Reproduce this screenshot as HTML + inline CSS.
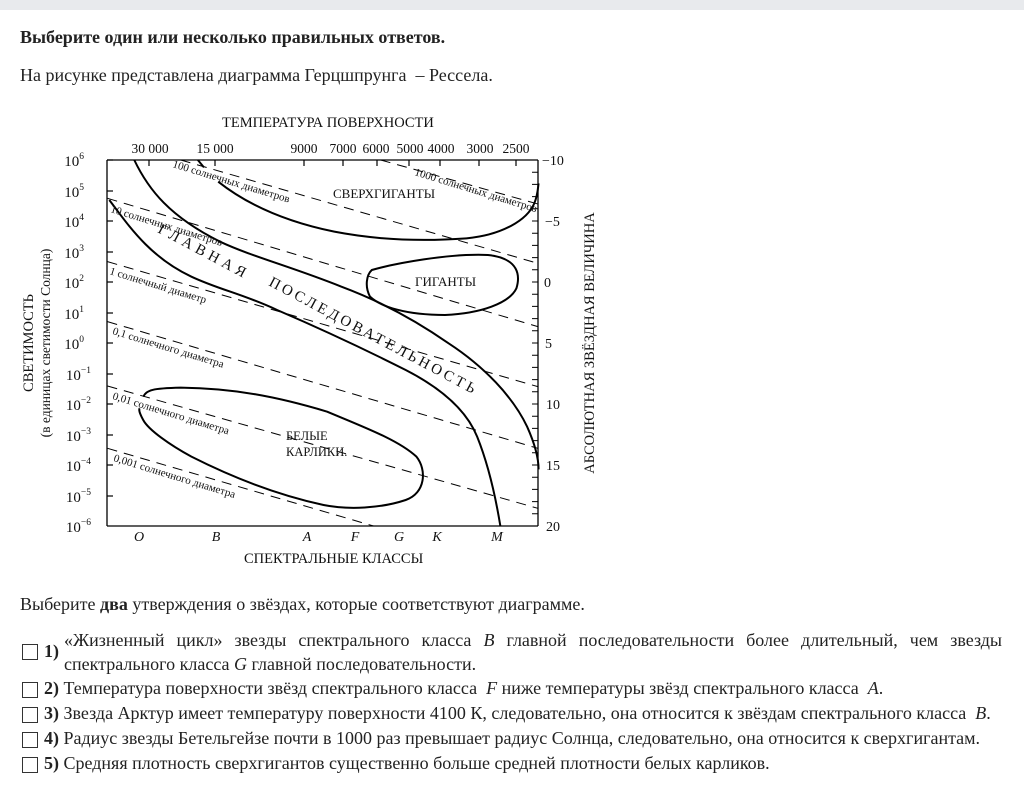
<!DOCTYPE html>
<html><head><meta charset="utf-8"><style>
body{margin:0;width:1024px;height:804px;background:#fff;font-family:"Liberation Serif","Times New Roman",serif;color:#222;position:relative;overflow:hidden}
.bar{position:absolute;left:0;top:0;width:1024px;height:10px;background:#e8eaed}
.t{position:absolute;font-size:18px;white-space:nowrap;font-family:"Liberation Serif",serif}
.cb{position:absolute;left:22px;width:14px;height:14px;border:1px solid #333;background:#fff}
i{font-style:italic}
</style></head><body>
<div class="bar"></div>
<div class="t" style="left:20px;top:27px;font-weight:bold">Выберите один или несколько правильных ответов.</div>
<div class="t" style="left:20px;top:65px">На рисунке представлена диаграмма Герцшпрунга &nbsp;– Рессела.</div>

<svg width="1024" height="804" style="position:absolute;left:0;top:0" font-family="Liberation Serif, serif">
<g fill="none" stroke="#000" stroke-width="1.3">
<line x1="107" y1="160" x2="107" y2="526"/><line x1="107" y1="526" x2="538" y2="526"/>
<line x1="107" y1="160" x2="538" y2="160"/><line x1="538" y1="160" x2="538" y2="526"/>
</g>
<g stroke="#000" stroke-width="1.2">
<line x1="107" y1="160" x2="113" y2="160"/><line x1="107" y1="191" x2="113" y2="191"/><line x1="107" y1="221" x2="113" y2="221"/><line x1="107" y1="252" x2="113" y2="252"/><line x1="107" y1="282" x2="113" y2="282"/><line x1="107" y1="313" x2="113" y2="313"/><line x1="107" y1="343" x2="113" y2="343"/><line x1="107" y1="374" x2="113" y2="374"/><line x1="107" y1="404" x2="113" y2="404"/><line x1="107" y1="435" x2="113" y2="435"/><line x1="107" y1="465" x2="113" y2="465"/><line x1="107" y1="496" x2="113" y2="496"/>
<line x1="149" y1="160" x2="149" y2="166"/><line x1="215" y1="160" x2="215" y2="166"/><line x1="304" y1="160" x2="304" y2="166"/><line x1="343" y1="160" x2="343" y2="166"/><line x1="377" y1="160" x2="377" y2="166"/><line x1="409" y1="160" x2="409" y2="166"/><line x1="440" y1="160" x2="440" y2="166"/><line x1="479" y1="160" x2="479" y2="166"/><line x1="516" y1="160" x2="516" y2="166"/>
</g>
<path stroke="#000" stroke-width="1" d="M532 160h6M532 172.2h6M532 184.4h6M532 196.6h6M532 208.8h6M532 221h6M532 233.2h6M532 245.4h6M532 257.6h6M532 269.8h6M532 282h6M532 294.2h6M532 306.4h6M532 318.6h6M532 330.8h6M532 343h6M532 355.2h6M532 367.4h6M532 379.6h6M532 391.8h6M532 404h6M532 416.2h6M532 428.4h6M532 440.6h6M532 452.8h6M532 465h6M532 477.2h6M532 489.4h6M532 501.6h6M532 513.8h6M532 526h6"/>
<g transform="matrix(0.35714,0,0,0.33333,20,110)" fill="none" stroke="#000">
<g stroke-dasharray="10,7" stroke-width="1">
<path vector-effect="non-scaling-stroke" d="M1010 150L1450 282"/>
<path vector-effect="non-scaling-stroke" d="M450 150L1450 460"/>
<path vector-effect="non-scaling-stroke" d="M245 265L1450 650"/>
<path vector-effect="non-scaling-stroke" d="M245 455L1450 830"/>
<path vector-effect="non-scaling-stroke" d="M245 635L1450 1015"/>
<path vector-effect="non-scaling-stroke" d="M245 828L1450 1195"/>
<path vector-effect="non-scaling-stroke" d="M245 1015L990 1248"/>
</g>
<g stroke-width="2">
<path vector-effect="non-scaling-stroke" d="M320 150C360 240 420 320 560 395C650 440 760 470 900 530C1000 570 1100 625 1200 700C1300 770 1380 860 1420 950C1445 1010 1452 1050 1452 1078"/>
<path vector-effect="non-scaling-stroke" d="M250 270C300 340 360 440 480 500C560 540 620 550 720 600C850 660 960 715 1080 780C1180 835 1250 900 1280 980C1310 1060 1330 1150 1345 1248"/>
<path vector-effect="non-scaling-stroke" d="M498 150L515 172"/>
<path vector-effect="non-scaling-stroke" d="M555 215C620 270 720 330 880 365C1000 390 1120 395 1250 385C1350 375 1420 330 1440 280C1450 255 1450 235 1452 220"/>
<path vector-effect="non-scaling-stroke" d="M985 480C1050 460 1200 430 1310 435C1400 445 1400 500 1390 535C1370 580 1290 610 1190 615C1080 615 1010 590 980 560C965 530 970 495 985 480Z"/>
<path vector-effect="non-scaling-stroke" d="M345 860C355 840 370 835 450 833C600 835 720 860 860 905C960 950 1060 990 1110 1040C1140 1080 1135 1150 1080 1170C1010 1195 920 1200 850 1185C720 1155 600 1105 480 1040C420 1005 360 960 345 930C335 910 332 900 335 895"/>
</g>
</g>
<g fill="#111">
<text x="222" y="127" font-size="14.5">ТЕМПЕРАТУРА ПОВЕРХНОСТИ</text>
<g font-size="13.5" text-anchor="middle">
<text x="150" y="153">30 000</text><text x="215" y="153">15 000</text><text x="304" y="153">9000</text><text x="343" y="153">7000</text><text x="376" y="153">6000</text><text x="410" y="153">5000</text><text x="441" y="153">4000</text><text x="480" y="153">3000</text><text x="516" y="153">2500</text>
</g>
<g font-size="15" text-anchor="end">
<text x="84" y="166">10<tspan dy="-7" font-size="9.5">6</tspan></text>
<text x="84" y="197">10<tspan dy="-7" font-size="9.5">5</tspan></text>
<text x="84" y="227">10<tspan dy="-7" font-size="9.5">4</tspan></text>
<text x="84" y="258">10<tspan dy="-7" font-size="9.5">3</tspan></text>
<text x="84" y="288">10<tspan dy="-7" font-size="9.5">2</tspan></text>
<text x="84" y="319">10<tspan dy="-7" font-size="9.5">1</tspan></text>
<text x="84" y="349">10<tspan dy="-7" font-size="9.5">0</tspan></text>
<text x="91" y="380">10<tspan dy="-7" font-size="9.5">−1</tspan></text>
<text x="91" y="410">10<tspan dy="-7" font-size="9.5">−2</tspan></text>
<text x="91" y="441">10<tspan dy="-7" font-size="9.5">−3</tspan></text>
<text x="91" y="471">10<tspan dy="-7" font-size="9.5">−4</tspan></text>
<text x="91" y="502">10<tspan dy="-7" font-size="9.5">−5</tspan></text>
<text x="91" y="532">10<tspan dy="-7" font-size="9.5">−6</tspan></text>
</g>
<g font-size="14">
<text x="542" y="165">−10</text><text x="545" y="226">−5</text><text x="544" y="287">0</text><text x="545" y="348">5</text><text x="546" y="409">10</text><text x="546" y="470">15</text><text x="546" y="531">20</text>
</g>
<g font-size="14" font-style="italic" text-anchor="middle">
<text x="139" y="541">O</text><text x="216" y="541">B</text><text x="307" y="541">A</text><text x="355" y="541">F</text><text x="399" y="541">G</text><text x="437" y="541">K</text><text x="497" y="541">M</text>
</g>
<text x="244" y="563" font-size="14.5">СПЕКТРАЛЬНЫЕ КЛАССЫ</text>
<text transform="translate(33,343) rotate(-90)" text-anchor="middle" font-size="14.5">СВЕТИМОСТЬ</text>
<text transform="translate(50,343) rotate(-90)" text-anchor="middle" font-size="13.5">(в единицах светимости Солнца)</text>
<text transform="translate(594,343) rotate(-90)" text-anchor="middle" font-size="14.5">АБСОЛЮТНАЯ ЗВЁЗДНАЯ ВЕЛИЧИНА</text>
<text x="333" y="198" font-size="13">СВЕРХГИГАНТЫ</text>
<text x="415" y="286" font-size="13">ГИГАНТЫ</text>
<text x="286" y="440" font-size="12.5">БЕЛЫЕ</text>
<text x="286" y="456" font-size="12.5">КАРЛИКИ.</text>
<g font-size="11">
<text transform="translate(172,167) rotate(17)">100 солнечных диаметров</text>
<text transform="translate(414,175) rotate(17)">1000 солнечных диаметров</text>
<text transform="translate(110,212) rotate(17)">10 солнечных диаметров</text>
<text transform="translate(109,274) rotate(17)">1 солнечный диаметр</text>
<text transform="translate(112,334) rotate(17)">0,1 солнечного диаметра</text>
<text transform="translate(112,399) rotate(17)">0,01 солнечного диаметра</text>
<text transform="translate(113,461) rotate(17)">0,001 солнечного диаметра</text>
</g>
<text transform="translate(157,232) rotate(28)" font-size="15" letter-spacing="4.5">ГЛАВНАЯ</text>
<text transform="translate(268,285) rotate(28)" font-size="15" letter-spacing="3.2">ПОСЛЕДОВАТЕЛЬНОСТЬ</text>
</g>
</svg>

<div class="t" style="left:20px;top:594px">Выберите <b>два</b> утверждения о звёздах, которые соответствуют диаграмме.</div>
<div class="cb" style="top:644px"></div>
<div class="t" style="left:44px;top:641px;font-weight:bold">1)</div>
<div class="t" style="left:64px;top:628px;width:938px;white-space:normal;text-align:justify;text-align-last:left;line-height:24px">«Жизненный цикл» звезды спектрального класса <i>B</i> главной последовательности более длительный, чем звезды спектрального класса <i>G</i> главной последовательности.</div>
<div class="cb" style="top:682px"></div>
<div class="t" style="left:44px;top:678px"><b>2)</b> Температура поверхности звёзд спектрального класса &nbsp;<i>F</i> ниже температуры звёзд спектрального класса &nbsp;<i>A</i>.</div>
<div class="cb" style="top:707px"></div>
<div class="t" style="left:44px;top:703px"><b>3)</b> Звезда Арктур имеет температуру поверхности 4100 К, следовательно, она относится к звёздам спектрального класса &nbsp;<i>B</i>.</div>
<div class="cb" style="top:732px"></div>
<div class="t" style="left:44px;top:728px"><b>4)</b> Радиус звезды Бетельгейзе почти в 1000 раз превышает радиус Солнца, следовательно, она относится к сверхгигантам.</div>
<div class="cb" style="top:757px"></div>
<div class="t" style="left:44px;top:753px"><b>5)</b> Средняя плотность сверхгигантов существенно больше средней плотности белых карликов.</div>
</body></html>
